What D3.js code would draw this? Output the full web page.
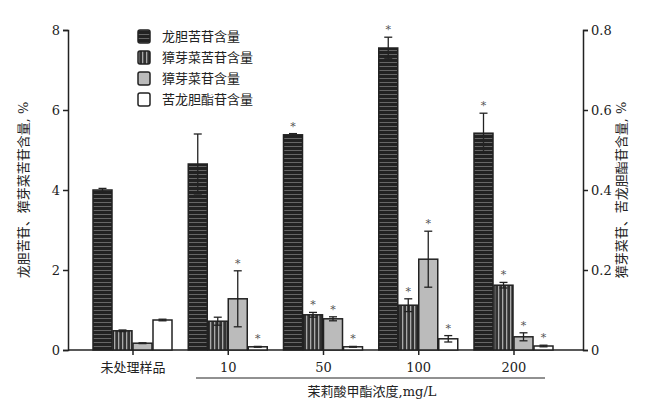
<!DOCTYPE html>
<html><head><meta charset="utf-8">
<script src="https://cdn.jsdelivr.net/npm/d3@7"></script>
<style>body{margin:0;background:#fff}text{font-family:"DejaVu Serif","Noto Sans CJK SC",serif;fill:#222}</style>
</head><body><svg id="c" width="648" height="403"></svg>
<script>
var groups = ["未处理样品", "10", "50", "100", "200"];
var seriesNames = ["龙胆苦苷含量", "獐芽菜苦苷含量", "獐芽菜苷含量", "苦龙胆酯苷含量"];
var longdan = [4.0, 4.65, 5.38, 7.55, 5.42];
var longdanErr = [0.04, 0.75, 0.03, 0.27, 0.5];
var zhangku = [0.48, 0.72, 0.88, 1.12, 1.62];
var zhangkuErr = [0.02, 0.1, 0.06, 0.16, 0.07];
var zhang = [0.17, 1.28, 0.78, 2.27, 0.33];
var zhangErr = [0.01, 0.7, 0.05, 0.7, 0.1];
var kulong = [0.075, 0.008, 0.008, 0.028, 0.01];   // right axis
var kulongErr = [0.002, 0.001, 0.001, 0.008, 0.002];
var stars = [[0,0,0,0],[0,0,1,1],[1,1,1,1],[1,1,1,1],[1,1,1,1]];

var svg = d3.select("#c");
var defs = svg.append("defs");
var ph = defs.append("pattern").attr("id", "ph").attr("patternUnits", "userSpaceOnUse").attr("width", 4).attr("height", 4);
ph.append("rect").attr("width", 4).attr("height", 4).attr("fill", "#222");
ph.append("rect").attr("y", 2).attr("width", 4).attr("height", 1).attr("fill", "#666");
var pv = defs.append("pattern").attr("id", "pv").attr("patternUnits", "userSpaceOnUse").attr("width", 4).attr("height", 4);
pv.append("rect").attr("width", 4).attr("height", 4).attr("fill", "#333");
pv.append("rect").attr("x", 2).attr("width", 1.3).attr("height", 4).attr("fill", "#aaa");
var fills = ["url(#ph)", "url(#pv)", "#bbb", "#fff"];

var L = 68, R = 583, T = 30, B = 350;
var x = d3.scalePoint().domain(groups).range([133, 514]);
var yL = d3.scaleLinear().domain([0, 8]).range([B, T]);
var yR = d3.scaleLinear().domain([0, 0.8]).range([B, T]);
var bw = 19, step = 20;

svg.append("line").attr("x1", L).attr("x2", R).attr("y1", B).attr("y2", B).attr("stroke", "#222").attr("stroke-width", 1.5);
var ga = svg.append("g").attr("transform", "translate(" + L + ",0)").call(d3.axisLeft(yL).ticks(4).tickSize(5).tickFormat(d3.format("d")));
var gr = svg.append("g").attr("transform", "translate(" + R + ",0)").call(d3.axisRight(yR).ticks(4).tickSize(5).tickFormat(d3.format(".1f")));
[ga, gr].forEach(function (g) { g.selectAll("path,line").attr("stroke", "#222").attr("stroke-width", 1.5); g.selectAll("text").style("font-size", "13px"); });
gr.selectAll(".tick text").text(function (d) { return d === 0 ? "0" : d3.format(".1f")(d); });

var sets = [[longdan, longdanErr, yL], [zhangku, zhangkuErr, yL], [zhang, zhangErr, yL], [kulong, kulongErr, yR]];
groups.forEach(function (g, gi) {
  var x0 = x(g) - 2 * step;
  sets.forEach(function (s, si) {
    var y = s[2], v = s[0][gi], e = s[1][gi];
    var bx = x0 + si * step;
    svg.append("rect").attr("x", bx).attr("y", y(v)).attr("width", bw).attr("height", B - y(v))
      .attr("fill", fills[si]).attr("stroke", "#222").attr("stroke-width", 1.5);
    var cx = bx + bw / 2;
    svg.append("line").attr("x1", cx).attr("x2", cx).attr("y1", y(v - e)).attr("y2", y(v + e)).attr("stroke", "#222").attr("stroke-width", 1.3);
    [v - e, v + e].forEach(function (t) {
      svg.append("line").attr("x1", cx - 4).attr("x2", cx + 4).attr("y1", y(t)).attr("y2", y(t)).attr("stroke", "#222").attr("stroke-width", 1.3);
    });
    if (stars[gi][si]) svg.append("text").attr("x", cx).attr("y", y(v + e) - 4).attr("text-anchor", "middle").style("font-size", "11px").style("fill", "#555").text("*");
  });
  svg.append("line").attr("x1", x(g)).attr("x2", x(g)).attr("y1", B).attr("y2", B + 5).attr("stroke", "#222").attr("stroke-width", 1.5);
  svg.append("text").attr("x", x(g)).attr("y", B + 22).attr("text-anchor", "middle").style("font-size", "13px").text(g);
});

svg.append("line").attr("x1", 196).attr("x2", 545).attr("y1", 378).attr("y2", 378).attr("stroke", "#222");
svg.append("text").attr("x", 372).attr("y", 396).attr("text-anchor", "middle").style("font-size", "13px").text("茉莉酸甲酯浓度,mg/L");
svg.append("text").attr("transform", "translate(28,190) rotate(-90)").attr("text-anchor", "middle").style("font-size", "13px").text("龙胆苦苷、獐芽菜苦苷含量, %");
svg.append("text").attr("transform", "translate(626,190) rotate(-90)").attr("text-anchor", "middle").style("font-size", "13px").text("獐芽菜苷、苦龙胆酯苷含量, %");

seriesNames.forEach(function (n, i) {
  var ly = 30 + i * 21;
  svg.append("rect").attr("x", 138).attr("y", ly).attr("width", 12).attr("height", 13).attr("rx", 2).attr("fill", fills[i]).attr("stroke", "#222").attr("stroke-width", 1.5);
  svg.append("text").attr("x", 162).attr("y", ly + 11).style("font-size", "13px").text(n);
});
</script></body></html>
